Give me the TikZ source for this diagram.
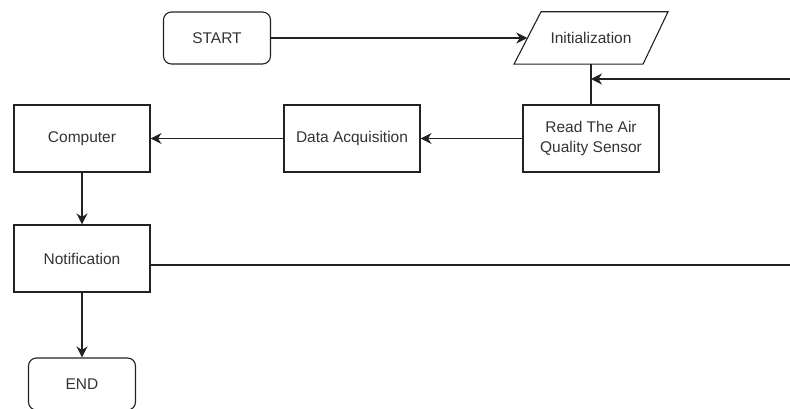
\documentclass[tikz,border=0pt]{standalone}
\usepackage{fontspec}
\setmainfont{Liberation Sans}
\usetikzlibrary{arrows.meta}
\definecolor{txt}{HTML}{333333}
\definecolor{ln}{HTML}{222222}
\tikzset{
  box/.style={draw=ln, line width=1.1pt, minimum width=136pt, minimum height=67pt, inner sep=0pt, text=txt, align=center, font=\fontsize{15.5}{20}\selectfont},
  term/.style={box, rounded corners=8pt, minimum width=107pt, minimum height=52pt},
  io/.style={minimum width=127pt, minimum height=52pt, inner sep=0pt, text=txt, font=\fontsize{15.5}{20}\selectfont},
  ioshape/.style={draw=ln, line width=1.1pt, line join=miter},
  arr/.style={draw=ln, line width=1.1pt, -{Stealth[length=11pt,width=11pt,inset=3.5pt]}},
  plain/.style={draw=ln, line width=1.1pt}
}
\begin{document}
\begin{tikzpicture}[x=1pt,y=-1pt]
\clip (0,0) rectangle (790,409);
\fill[white] (0,0) rectangle (790,409);
\node[term] (start) at (217,38) {START};
\node[io] (init) at (591,38) {Initialization};
\draw[ioshape] ([xshift=-50pt]init.north) -- ([xshift=77pt]init.north) -- ([xshift=52pt]init.south) -- ([xshift=-77pt]init.south) -- cycle;
\node[box] (read) at (591,138.5) {Read The Air\\Quality Sensor};
\node[box] (daq) at (352,138.5) {Data Acquisition};
\node[box] (comp) at (82,138.5) {Computer};
\node[box] (notif) at (82,258.5) {Notification};
\node[term] (end) at (82,384) {END};
\coordinate (loopin) at (790,79);
\coordinate (nout) at (790,265);
\draw[arr] (start) -- (init);
\draw[plain] (init.south) -- (read.north);
\draw[arr] (loopin) -- (init.south |- loopin);
\draw[arr] (read) -- (daq);
\draw[arr] (daq) -- (comp);
\draw[arr] (comp) -- (notif);
\draw[arr] (notif) -- (end);
\draw[plain] (notif.east |- nout) -- (nout);
\end{tikzpicture}
\end{document}
